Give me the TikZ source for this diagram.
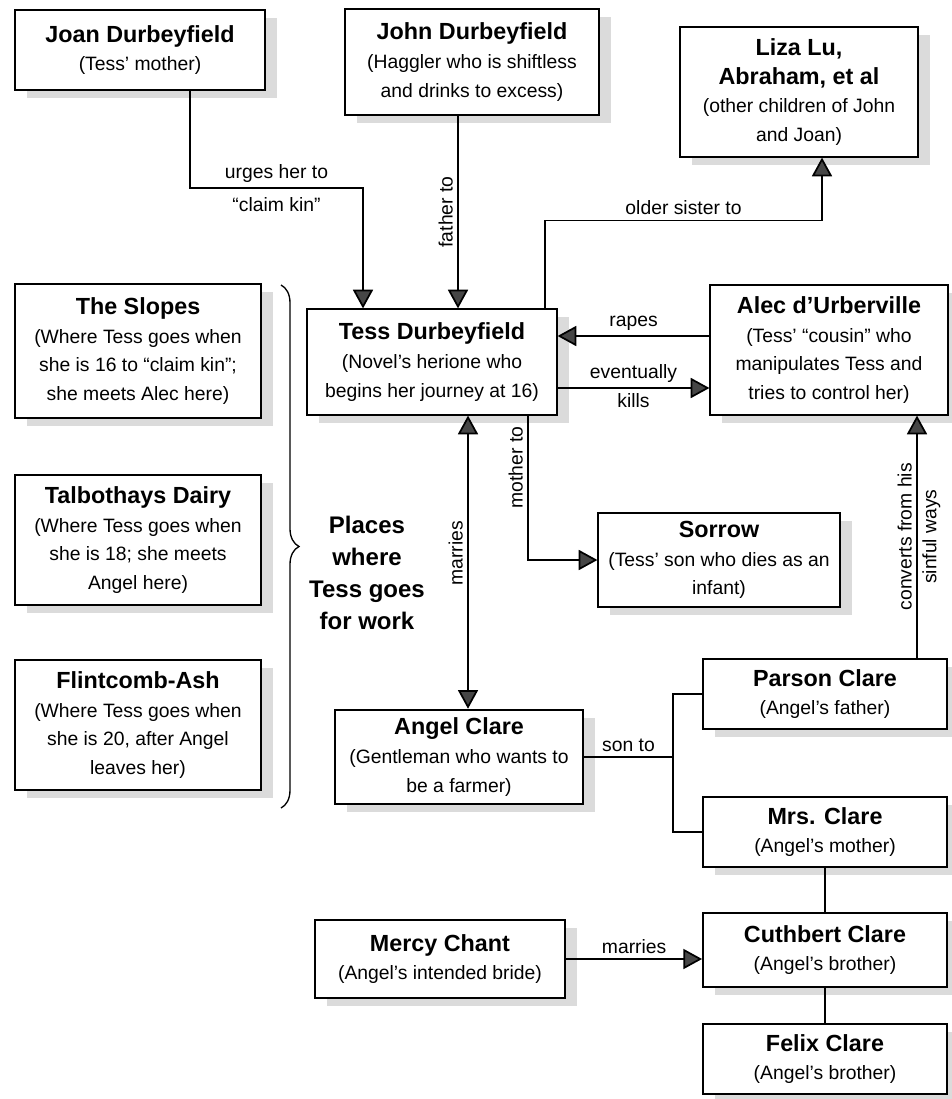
\documentclass[tikz,border=0pt]{standalone}
\usepackage{fontspec}
\setmainfont{Liberation Sans}
\usetikzlibrary{arrows.meta,shadows,decorations.pathreplacing}

\newcommand{\who}[1]{{\fontsize{17.5}{21}\selectfont\bfseries #1}}

\begin{document}
\begin{tikzpicture}[x=0.75pt,y=-0.75pt,font=\fontsize{14.5}{21.5}\selectfont,
    box/.style={shape=rectangle,draw=black,line width=1.4pt,fill=white,align=center,inner sep=2pt,
        drop shadow={shadow xshift=9pt,shadow yshift=-6pt,fill=gray!40,opacity=0.7}},
    arr/.style={line width=1.3pt,-{Triangle[length=14pt,width=15pt,fill=gray!55!black]}},
    arrboth/.style={line width=1.3pt,{Triangle[length=14pt,width=15pt,fill=gray!55!black]}-{Triangle[length=14pt,width=15pt,fill=gray!55!black]}},
    link/.style={line width=1.3pt}]
            \useasboundingbox[fill=white] (0,0) rectangle (952,1099);

            \node[box,minimum width=187pt,minimum height=60pt] (Joan) at (140,50) {\who{Joan Durbeyfield}\\(Tess' mother)};
            \node[box,minimum width=191pt,minimum height=79pt] (John) at (472,62) {\who{John Durbeyfield}\\(Haggler who is shiftless\\and drinks to excess)};
            \node[box,minimum width=178pt,minimum height=97pt] (Liza) at (799,92) {\who{Liza Lu,}\\\who{Abraham, et al}\\(other children of John\\and Joan)};
            \node[box,minimum width=187pt,minimum height=79pt] (Tess) at (432,362) {\who{Tess Durbeyfield}\\(Novel's herione who\\begins her journey at 16)};
            \node[box,minimum width=178pt,minimum height=97pt] (Alec) at (829,350) {\who{Alec d'Urberville}\\(Tess' ``cousin'' who\\manipulates Tess and\\tries to control her)};

            \node[box,minimum width=185pt,minimum height=100pt] (Slopes) at (138,351) {\who{The Slopes}\\(Where Tess goes when\\she is 16 to ``claim kin'';\\she meets Alec here)};
            \node[box,minimum width=185pt,minimum height=97pt] (Talbothays) at (138,540) {\who{Talbothays Dairy}\\(Where Tess goes when\\she is 18; she meets\\Angel here)};
            \node[box,minimum width=185pt,minimum height=97pt] (Flintcomb) at (138,725) {\who{Flintcomb-Ash}\\(Where Tess goes when\\she is 20, after Angel\\leaves her)};
            \node[align=center,font=\fontsize{18}{24}\selectfont\bfseries] (Places) at (367,573) {Places\\where\\Tess goes\\for work};

            \node[box,minimum width=181pt,minimum height=71pt] (Sorrow) at (719,560) {\who{Sorrow}\\(Tess' son who dies as an\\infant)};
            \node[box,minimum width=186pt,minimum height=71pt] (Angel) at (459,757) {\who{Angel Clare}\\(Gentleman who wants to\\be a farmer)};
            \node[box,minimum width=183pt,minimum height=53pt] (Parson) at (825,694) {\who{Parson Clare}\\(Angel's father)};
            \node[box,minimum width=183pt,minimum height=53pt] (Mrs) at (825,832) {\who{Mrs. Clare}\\(Angel's mother)};
            \node[box,minimum width=188pt,minimum height=58pt] (Mercy) at (440,959) {\who{Mercy Chant}\\(Angel's intended bride)};
            \node[box,minimum width=183pt,minimum height=55pt] (Cuthbert) at (825,950) {\who{Cuthbert Clare}\\(Angel's brother)};
            \node[box,minimum width=183pt,minimum height=53pt] (Felix) at (825,1059) {\who{Felix Clare}\\(Angel's brother)};

            % places brace
            \draw[decorate,decoration={brace,amplitude=13.5pt},line width=1pt] (281,285) -- (281,808);

            \draw[arr] ([xshift=37.5pt]Joan.south) -- ++(0,97) -| node[pos=0.25,align=center] {urges her to\\[3pt]``claim kin''} ([xshift=-51.75pt]Tess.north);
            \draw[arr] ([xshift=19.5pt]Tess.north |- John.south) -- ([xshift=19.5pt]Tess.north) node[midway,rotate=90,anchor=south] {father to};
            \draw[arr] ([xshift=84.75pt]Tess.north) -- ++(0,-88) -| node[pos=0.25,above] {older sister to} ([xshift=17.25pt]Liza.south);
            \draw[arr] ([yshift=10.5pt]Alec.west) -- ([yshift=10.5pt]Alec.west -| Tess.east) node[midway,above] {rapes};
            \draw[arr] ([yshift=-28.5pt]Alec.west -| Tess.east) -- ([yshift=-28.5pt]Alec.west) node[midway,above] {eventually} node[midway,below] {kills};
            \draw[arrboth] ([xshift=27pt]Tess.south) -- ([xshift=27pt]Tess.south |- Angel.north) node[pos=0.47,rotate=90,anchor=south] {marries};
            \draw[arr] ([xshift=72pt]Tess.south) |- node[pos=0.18,rotate=90,anchor=south] {mother to} (Sorrow.west);

            \draw[link] (Parson.west) -- ++(-29,0) coordinate (Bar) |- (Mrs.west);
            \draw[link] (Angel.east) -- (Angel.east -| Bar) node[midway,above] {son to};
            \draw[arr] ([xshift=69pt]Parson.north) -- ([xshift=69pt]Parson.north |- Alec.south) node[midway,rotate=90,anchor=south] {converts from his} node[midway,rotate=90,anchor=north] {sinful ways};
            \draw[link] (Mrs.south) -- (Cuthbert.north);
            \draw[link] (Cuthbert.south) -- (Felix.north);
            \draw[arr] (Mercy.east) -- (Mercy.east -| Cuthbert.west) node[midway,above] {marries};
        \end{tikzpicture}
\end{document}
